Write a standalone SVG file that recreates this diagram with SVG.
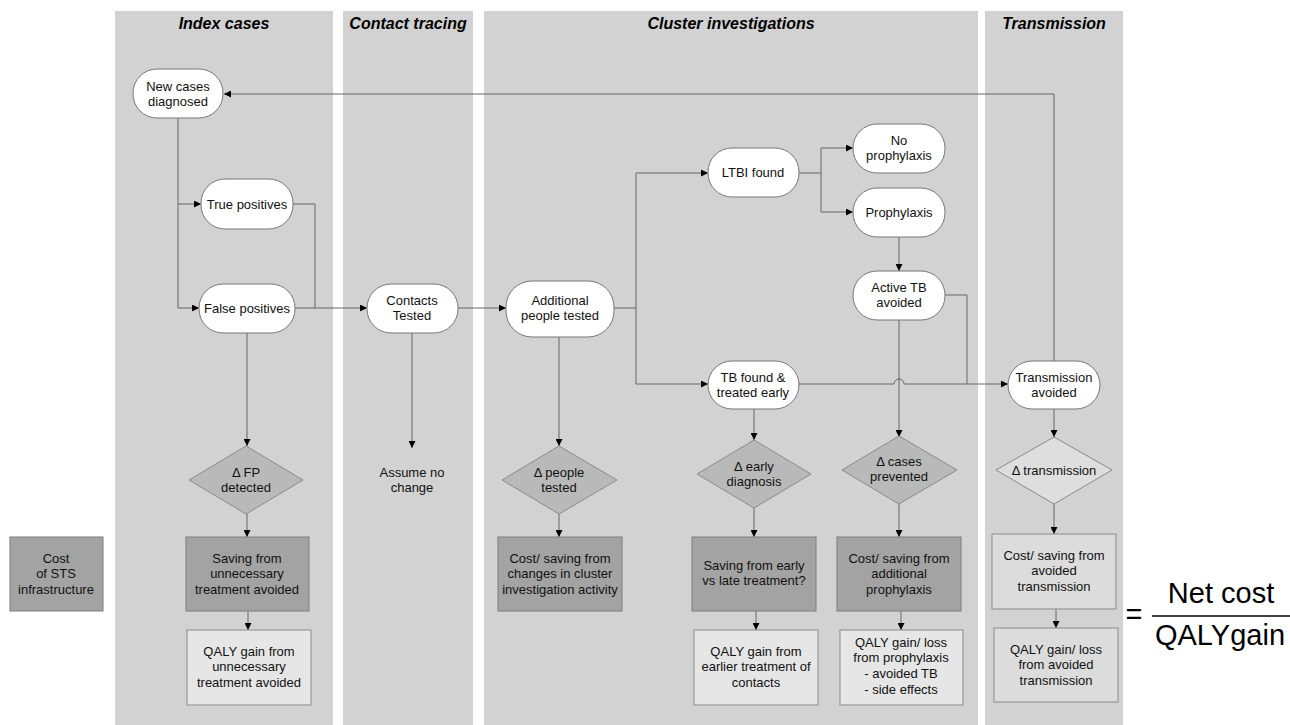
<svg xmlns="http://www.w3.org/2000/svg" width="1290" height="725" viewBox="0 0 1290 725">
<defs>
<marker id="ah" viewBox="0 0 10 10" refX="10" refY="5" markerWidth="7" markerHeight="7" markerUnits="userSpaceOnUse" orient="auto"><path d="M0,0 L10,5 L0,10 z" fill="#000"/></marker>
<style>
.lane{fill:#d2d2d2}
.title{font-family:"Liberation Sans",Arial,sans-serif;font-weight:bold;font-style:italic;font-size:16px;fill:#000;text-anchor:middle}
.t{font-family:"Liberation Sans",Arial,sans-serif;font-size:13px;fill:#111;text-anchor:middle}
.term{fill:#fff;stroke:#777;stroke-width:1}
.dia{fill:#b9b9b9;stroke:#8a8a8a;stroke-width:1}
.dial{fill:#dedede;stroke:#8a8a8a;stroke-width:1}
.dark{fill:#a3a3a3;stroke:#7c7c7c;stroke-width:1}
.light{fill:#e6e6e6;stroke:#8a8a8a;stroke-width:1}
.mid{fill:#dcdcdc;stroke:#8a8a8a;stroke-width:1}
.c{fill:none;stroke:#666;stroke-width:1}
.ca{fill:none;stroke:#666;stroke-width:1;marker-end:url(#ah)}
.big{font-family:"Liberation Sans",Arial,sans-serif;font-size:29px;fill:#000;text-anchor:middle}
</style>
</defs>
<rect width="1290" height="725" fill="#fff"/>
<g id="lanes">
<rect class="lane" x="115" y="11" width="218" height="714"/>
<rect class="lane" x="343" y="11" width="130" height="714"/>
<rect class="lane" x="484" y="11" width="494" height="714"/>
<rect class="lane" x="985" y="11" width="138" height="714"/>
<text class="title" x="224" y="29">Index cases</text>
<text class="title" x="408" y="29">Contact tracing</text>
<text class="title" x="731" y="29">Cluster investigations</text>
<text class="title" x="1054" y="29">Transmission</text>
</g>
<g id="connectors">
<path class="ca" d="M1054,361 V94 H224"/>
<path class="ca" d="M178,118 V204 H201"/>
<path class="ca" d="M178,204 V308 H199"/>
<path class="c" d="M293,204 H315 V308"/>
<path class="ca" d="M295,308 H367"/>
<path class="ca" d="M458,308 H506"/>
<path class="c" d="M614,308 H636"/>
<path class="ca" d="M636,384 V173 H708"/>
<path class="ca" d="M636,384 H708"/>
<path class="c" d="M799,173 H821"/>
<path class="ca" d="M821,212 V148 H853"/>
<path class="ca" d="M821,212 H853"/>
<path class="ca" d="M899,237 V271"/>
<path class="c" d="M945,295 H967 V384"/>
<path class="ca" d="M799,384 H894 A5,5 0 0 1 904,384 H1008"/>
<path class="ca" d="M899,320 V437"/>
<path class="ca" d="M247,333 V446"/>
<path class="ca" d="M247,514 V537"/>
<path class="ca" d="M248,611 V630"/>
<path class="ca" d="M412,333 V448"/>
<path class="ca" d="M559,337 V446"/>
<path class="ca" d="M559,514 V537"/>
<path class="ca" d="M754,409 V440"/>
<path class="ca" d="M754,508 V537"/>
<path class="ca" d="M756,611 V630"/>
<path class="ca" d="M899,504 V537"/>
<path class="ca" d="M901,611 V630"/>
<path class="ca" d="M1054,409 V437"/>
<path class="ca" d="M1054,504 V534"/>
<path class="ca" d="M1056,609 V628"/>
</g>
<g id="new-cases"><rect class="term" x="133" y="69" width="90" height="49" rx="24"/><text class="t" x="178" y="91">New cases</text><text class="t" x="178" y="106">diagnosed</text></g>
<g id="true-positives"><rect class="term" x="201" y="179" width="92" height="50" rx="24"/><text class="t" x="247" y="209">True positives</text></g>
<g id="false-positives"><rect class="term" x="199" y="284" width="96" height="49" rx="24"/><text class="t" x="247" y="313">False positives</text></g>
<g id="contacts-tested"><rect class="term" x="367" y="284" width="91" height="49" rx="24"/><text class="t" x="412" y="305">Contacts</text><text class="t" x="412" y="320">Tested</text></g>
<g id="additional-people"><rect class="term" x="506" y="281" width="108" height="56" rx="26"/><text class="t" x="560" y="305">Additional</text><text class="t" x="560" y="320">people tested</text></g>
<g id="ltbi-found"><rect class="term" x="708" y="148" width="91" height="49" rx="24"/><text class="t" x="753" y="177">LTBI found</text></g>
<g id="no-prophylaxis"><rect class="term" x="853" y="124" width="92" height="49" rx="24"/><text class="t" x="899" y="145">No</text><text class="t" x="899" y="160">prophylaxis</text></g>
<g id="prophylaxis"><rect class="term" x="853" y="188" width="92" height="49" rx="24"/><text class="t" x="899" y="217">Prophylaxis</text></g>
<g id="active-tb"><rect class="term" x="853" y="271" width="92" height="49" rx="24"/><text class="t" x="899" y="292">Active TB</text><text class="t" x="899" y="307">avoided</text></g>
<g id="tb-found"><rect class="term" x="708" y="361" width="91" height="48" rx="24"/><text class="t" x="753" y="382">TB found &amp;</text><text class="t" x="753" y="397">treated early</text></g>
<g id="transmission-avoided"><rect class="term" x="1008" y="361" width="92" height="48" rx="24"/><text class="t" x="1054" y="382">Transmission</text><text class="t" x="1054" y="397">avoided</text></g>
<g id="d-fp"><polygon class="dia" points="246,446 303,480 246,514 189,480"/><text class="t" x="246" y="477">Δ FP</text><text class="t" x="246" y="492">detected</text></g>
<g id="assume"><text class="t" x="412" y="477">Assume no</text><text class="t" x="412" y="492">change</text></g>
<g id="d-people"><polygon class="dia" points="559,446 617,480 559,514 502,480"/><text class="t" x="559" y="477">Δ people</text><text class="t" x="559" y="492">tested</text></g>
<g id="d-early"><polygon class="dia" points="754,440 811,474 754,508 697,474"/><text class="t" x="754" y="471">Δ early</text><text class="t" x="754" y="486">diagnosis</text></g>
<g id="d-cases"><polygon class="dia" points="899,436 957,470 899,504 842,470"/><text class="t" x="899" y="466">Δ cases</text><text class="t" x="899" y="481">prevented</text></g>
<g id="d-transmission"><polygon class="dial" points="1054,437 1112,470 1054,504 996,470"/><text class="t" x="1054" y="475">Δ transmission</text></g>
<g id="cost-sts"><rect class="dark" x="10" y="537" width="93" height="74"/><text class="t" x="56" y="563">Cost</text><text class="t" x="56" y="578">of STS</text><text class="t" x="56" y="594">infrastructure</text></g>
<g id="saving-unnecessary"><rect class="dark" x="186" y="537" width="123" height="74"/><text class="t" x="247" y="563">Saving from</text><text class="t" x="247" y="578">unnecessary</text><text class="t" x="247" y="594">treatment avoided</text></g>
<g id="qaly-unnecessary"><rect class="light" x="187" y="630" width="124" height="75"/><text class="t" x="249" y="656">QALY gain from</text><text class="t" x="249" y="671">unnecessary</text><text class="t" x="249" y="687">treatment avoided</text></g>
<g id="cost-cluster"><rect class="dark" x="498" y="537" width="124" height="74"/><text class="t" x="560" y="563">Cost/ saving from</text><text class="t" x="560" y="578">changes in cluster</text><text class="t" x="560" y="594">investigation activity</text></g>
<g id="saving-early"><rect class="dark" x="692" y="537" width="124" height="74"/><text class="t" x="754" y="570">Saving from early</text><text class="t" x="754" y="585">vs late treatment?</text></g>
<g id="qaly-early"><rect class="light" x="694" y="630" width="124" height="75"/><text class="t" x="756" y="656">QALY gain from</text><text class="t" x="756" y="671">earlier treatment of</text><text class="t" x="756" y="687">contacts</text></g>
<g id="cost-prophylaxis"><rect class="dark" x="837" y="537" width="124" height="74"/><text class="t" x="899" y="563">Cost/ saving from</text><text class="t" x="899" y="578">additional</text><text class="t" x="899" y="594">prophylaxis</text></g>
<g id="qaly-prophylaxis"><rect class="light" x="840" y="630" width="123" height="75"/><text class="t" x="901" y="647">QALY gain/ loss</text><text class="t" x="901" y="662">from prophylaxis</text><text class="t" x="901" y="678">- avoided TB</text><text class="t" x="901" y="694">- side effects</text></g>
<g id="cost-transmission"><rect class="mid" x="992" y="534" width="124" height="75"/><text class="t" x="1054" y="560">Cost/ saving from</text><text class="t" x="1054" y="575">avoided</text><text class="t" x="1054" y="591">transmission</text></g>
<g id="qaly-transmission"><rect class="mid" x="994" y="628" width="124" height="74"/><text class="t" x="1056" y="654">QALY gain/ loss</text><text class="t" x="1056" y="669">from avoided</text><text class="t" x="1056" y="685">transmission</text></g>
<g id="ratio">
<text class="big" x="1134" y="624">=</text>
<text class="big" x="1221" y="603">Net cost</text>
<line x1="1152" y1="616" x2="1290" y2="616" stroke="#000" stroke-width="1.5"/>
<text class="big" x="1220" y="645">QALYgain</text>
</g>
</svg>
